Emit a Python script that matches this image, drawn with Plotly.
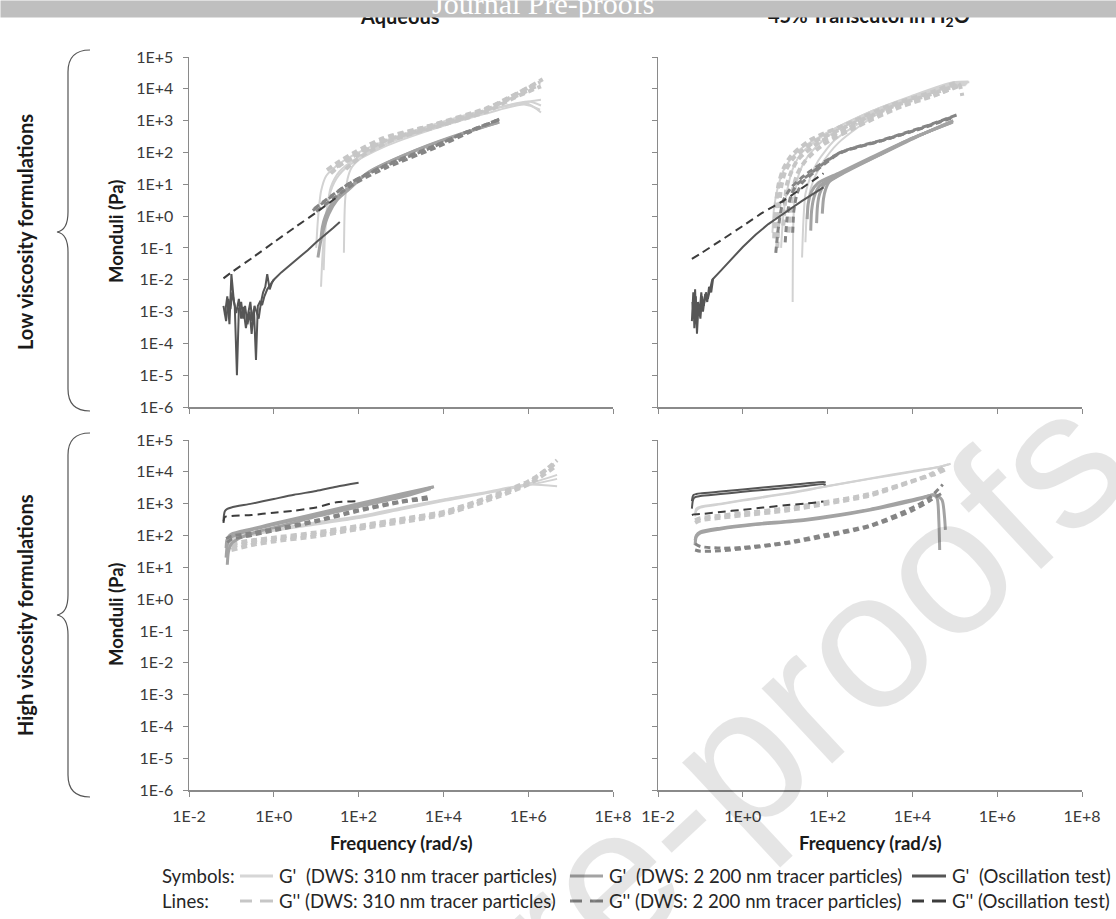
import plotly.graph_objects as go

W, H = 1116, 919

# ---------------- text / tick labels ----------------
X_TICK_VALS = [1e-2, 1e0, 1e2, 1e4, 1e6, 1e8]
X_TICK_TEXT = ["1E-2", "1E+0", "1E+2", "1E+4", "1E+6", "1E+8"]
Y_TICK_VALS = [1e-6, 1e-5, 1e-4, 1e-3, 1e-2, 1e-1, 1e0, 1e1, 1e2, 1e3, 1e4, 1e5]
Y_TICK_TEXT = ["1E-6", "1E-5", "1E-4", "1E-3", "1E-2", "1E-1", "1E+0", "1E+1", "1E+2", "1E+3", "1E+4", "1E+5"]
PANEL_TITLES = ["Aqueous", "45% Transcutol in H<sub>2</sub>O"]
ROW_LABELS = ["Low viscosity formulations", "High viscosity formulations"]
X_TITLE = "Frequency (rad/s)"
Y_TITLE = "Monduli (Pa)"
LEGEND_HEADS = ["Symbols:", "Lines:"]
LEGEND_GP = ["G'\u00a0\u00a0(DWS: 310 nm tracer particles)",
             "G'\u00a0\u00a0(DWS: 2 200 nm tracer particles)",
             "G'\u00a0\u00a0(Oscillation test)"]
LEGEND_GPP = ["G'' (DWS: 310 nm tracer particles)",
              "G'' (DWS: 2 200 nm tracer particles)",
              "G'' (Oscillation test)"]
BANNER = "Journal Pre-proofs"
WATERMARK = "Pre-proofs"

# ================= TOP-LEFT: Aqueous, low viscosity =================
AQL_OSC_GP1_F = [0.065, 0.075, 0.085, 0.095, 0.105, 0.12, 0.135, 0.15, 0.17, 0.19, 0.21, 0.24, 0.27, 0.3, 0.34,
                 0.38, 0.42, 0.47, 0.53, 0.6, 0.7, 0.85, 1.0, 1.5, 2.5, 4.0, 6.3, 10, 16, 25, 36]
AQL_OSC_GP1_G = [1.5e-3, 5e-4, 2.5e-3, 1.2e-3, 4e-3, 1.5e-3, 1e-5, 1.2e-3, 2e-3, 6e-4, 1.5e-3, 4e-4, 1e-3, 2e-4, 1.2e-3,
                 3e-5, 1.5e-3, 2e-3, 1.6e-3, 3e-3, 5e-3, 7e-3, 1e-2, 1.7e-2, 3e-2, 5e-2, 8.5e-2, 0.15, 0.25, 0.42, 0.65]
AQL_OSC_GP2_F = [0.07, 0.08, 0.09, 0.1, 0.115, 0.13, 0.15, 0.17, 0.19, 0.22, 0.25, 0.28, 0.31, 0.35, 0.39, 0.44,
                 0.5, 0.56, 0.63, 0.7, 0.8, 0.9, 1.0]
AQL_OSC_GP2_G = [8e-4, 3e-3, 4e-4, 1.5e-2, 2e-3, 9e-4, 2.5e-3, 6e-4, 1.4e-3, 3e-4, 9e-4, 2e-3, 5e-4, 1.5e-3, 1e-3, 6e-4,
                 2e-3, 4e-3, 6e-3, 1.5e-2, 5e-3, 8e-3, 1e-2]
AQL_OSC_GPP_F = [0.065, 0.1, 0.32, 1, 3.2, 10, 36]
AQL_OSC_GPP_G = [1.1e-2, 1.7e-2, 5e-2, 0.15, 0.45, 1.3, 4.6]

AQL_M_GP1_F = [11, 12.5, 15, 20, 31, 60, 160, 2400, 3e4, 2.1e5]
AQL_M_GP1_G = [0.05, 0.14, 0.4, 1.2, 3.2, 7, 22, 120, 400, 900]
AQL_M_GP2_F = [13, 14, 16.5, 22, 34, 65, 170, 2500, 3e4, 2e5]
AQL_M_GP2_G = [0.2, 0.45, 1.0, 2.2, 4.5, 8.5, 24, 125, 410, 880]

AQL_M_GPP1_F = [8.3, 20, 63, 380, 5600, 3.5e4, 2.1e5]
AQL_M_GPP1_G = [1.5, 3.6, 11, 35, 148, 440, 1100]
AQL_M_GPP2_F = [9, 22, 70, 400, 6000, 4e4, 2e5]
AQL_M_GPP2_G = [1.7, 4.2, 12, 38, 160, 470, 1050]
AQL_M_GPP3_F = [10, 25, 75, 450, 6500, 4e4, 2.2e5]
AQL_M_GPP3_G = [1.4, 3.5, 10, 33, 140, 420, 1150]

AQL_L_GP1_F = [13, 14, 16, 20, 30, 60, 400, 6e3, 9e4, 8e5, 1.9e6]
AQL_L_GP1_G = [0.006, 0.05, 0.5, 4, 15, 40, 150, 550, 1600, 3200, 2200]
AQL_L_GP2_F = [15, 16, 18, 22, 35, 80, 500, 8e3, 1e5, 1e6, 2e6]
AQL_L_GP2_G = [0.02, 0.2, 1.5, 8, 25, 60, 200, 700, 2000, 4000, 3000]
AQL_L_GP3_F = [45, 46, 48, 55, 70, 120, 600, 1e4, 1.2e5, 1.1e6, 2e6]
AQL_L_GP3_G = [0.07, 0.5, 3, 15, 35, 70, 220, 800, 2200, 4000, 4500]
AQL_L_GP4_F = [10, 11, 13, 17, 28, 60, 350, 5e3, 8e4, 9e5, 2e6]
AQL_L_GP4_G = [0.1, 0.8, 6, 18, 35, 70, 210, 700, 2000, 3500, 1800]

AQL_L_GPP1_F = [18, 30, 80, 380, 5.6e3, 8.5e4, 5.4e5, 1.9e6]
AQL_L_GPP1_G = [28, 45, 100, 280, 720, 2100, 7200, 1.6e4]
AQL_L_GPP2_F = [22, 35, 100, 450, 6e3, 9e4, 6e5, 2.2e6]
AQL_L_GPP2_G = [22, 38, 85, 240, 650, 2000, 7500, 2e4]
AQL_L_GPP3_F = [30, 50, 120, 600, 7e3, 1e5, 6e5, 1.7e6]
AQL_L_GPP3_G = [35, 55, 110, 300, 800, 2400, 6500, 1.3e4]
AQL_L_GPP4_F = [50, 70, 150, 700, 8e3, 1e5, 5e5, 2e6]
AQL_L_GPP4_G = [30, 45, 95, 260, 680, 1900, 5500, 1.2e4]

# ================= TOP-RIGHT: Transcutol, low viscosity =================
TRL_OSC_GP1_F = [0.063, 0.068, 0.072, 0.078, 0.083, 0.09, 0.1, 0.11, 0.12, 0.135, 0.15, 0.17, 0.19, 0.3, 0.5,
                 1, 2, 4, 10, 25, 80]
TRL_OSC_GP1_G = [5e-4, 4e-3, 3e-4, 3e-3, 2e-4, 1.5e-3, 6e-4, 3e-3, 1.5e-3, 4e-3, 2.5e-3, 5e-3, 1e-2, 1.9e-2, 4e-2,
                 0.107, 0.26, 0.56, 1.3, 3, 8]
TRL_OSC_GP2_F = [0.065, 0.07, 0.075, 0.08, 0.088, 0.095, 0.105, 0.115, 0.13, 0.145, 0.16, 0.18, 0.2]
TRL_OSC_GP2_G = [2e-3, 6e-4, 5e-3, 4e-4, 2e-3, 8e-4, 4e-3, 1e-3, 3.5e-3, 2e-3, 6e-3, 4e-3, 1.1e-2]
TRL_OSC_GPP_F = [0.063, 0.1, 0.3, 1, 3, 10, 30, 80]
TRL_OSC_GPP_G = [0.045, 0.066, 0.17, 0.49, 1.3, 3.3, 9, 22]

TRL_M_GP1_F = [40, 42, 48, 65, 200, 1.2e3, 1e4, 9e4]
TRL_M_GP1_G = [0.35, 1.5, 4, 9, 22, 70, 280, 900]
TRL_M_GP2_F = [55, 58, 65, 85, 230, 1.3e3, 1.1e4, 9e4]
TRL_M_GP2_G = [0.6, 2.2, 5, 10, 23, 72, 290, 950]
TRL_M_GP3_F = [75, 80, 90, 110, 260, 1.4e3, 1.2e4, 9.2e4]
TRL_M_GP3_G = [1.2, 3.5, 7, 12, 24, 74, 300, 1000]
TRL_M_GP4_F = [33, 35, 42, 60, 190, 1.1e3, 1e4, 8.5e4]
TRL_M_GP4_G = [0.8, 2.5, 6, 11, 23, 71, 280, 880]

TRL_M_GPP1_F = [6, 7, 9, 14, 30, 190, 1.8e3, 1.5e4, 1e5]
TRL_M_GPP1_G = [0.07, 0.5, 3, 8, 20, 95, 230, 560, 1400]
TRL_M_GPP2_F = [10, 11, 13, 18, 40, 200, 1.8e3, 1.5e4, 1.1e5]
TRL_M_GPP2_G = [0.15, 0.8, 3.5, 9, 22, 100, 240, 580, 1500]
TRL_M_GPP3_F = [15, 16, 19, 25, 50, 210, 1.9e3, 1.6e4, 1e5]
TRL_M_GPP3_G = [0.3, 1.5, 5, 11, 25, 100, 235, 560, 1300]

TRL_L_GP1_F = [8, 9, 11, 15, 25, 95, 1.2e3, 9e3, 9e4, 2.2e5]
TRL_L_GP1_G = [0.1, 1, 6, 30, 100, 400, 2100, 5500, 1.5e4, 1.6e4]
TRL_L_GP2_F = [15, 15.5, 17, 22, 35, 110, 1.3e3, 1e4, 1e5, 2e5]
TRL_L_GP2_G = [0.002, 0.5, 5, 25, 80, 350, 2000, 5500, 1.4e4, 1.5e4]
TRL_L_GP3_F = [25, 27, 30, 40, 60, 150, 1.5e3, 1e4, 1e5, 1.9e5]
TRL_L_GP3_G = [0.05, 0.8, 5, 18, 55, 250, 1800, 5000, 1.3e4, 1.4e4]
TRL_L_GP4_F = [5, 5.5, 7, 10, 20, 90, 1.1e3, 9e3, 9e4, 2.1e5]
TRL_L_GP4_G = [0.3, 2, 10, 35, 110, 400, 2000, 5800, 1.6e4, 1.7e4]
TRL_L_GP5_F = [30, 32, 36, 45, 70, 180, 1.6e3, 1.1e4, 1e5, 1.8e5]
TRL_L_GP5_G = [0.15, 1, 4, 12, 40, 200, 1700, 5000, 1.25e4, 1.3e4]

TRL_L_GPP1_F = [5.5, 6, 7, 9, 14, 40, 300, 3e3, 3e4, 1.2e5, 1.5e5]
TRL_L_GPP1_G = [0.2, 2, 10, 30, 80, 250, 800, 3000, 8000, 1.5e4, 6000]
TRL_L_GPP2_F = [6.5, 7, 8, 10, 16, 50, 350, 3.5e3, 3.5e4, 1.1e5]
TRL_L_GPP2_G = [0.1, 1, 8, 25, 70, 220, 750, 2800, 7500, 1.3e4]
TRL_L_GPP3_F = [9, 10, 11, 14, 20, 60, 400, 4e3, 4e4, 1.2e5]
TRL_L_GPP3_G = [0.5, 3, 10, 25, 60, 200, 700, 2600, 7000, 1.2e4]
TRL_L_GPP4_F = [12, 13, 15, 19, 30, 80, 500, 4.5e3, 4.5e4, 1.3e5]
TRL_L_GPP4_G = [0.3, 1.5, 6, 20, 55, 180, 650, 2500, 7200, 1.4e4]

# ================= BOTTOM-LEFT: Aqueous, high viscosity =================
AQH_OSC_GP_F = [0.065, 0.067, 0.07, 0.08, 0.1, 0.3, 1, 3, 10, 30, 100]
AQH_OSC_GP_G = [280, 450, 580, 680, 760, 1000, 1400, 1900, 2500, 3400, 4500]
AQH_OSC_GPP_F = [0.065, 0.07, 0.1, 0.3, 1, 3, 10, 30, 100]
AQH_OSC_GPP_G = [250, 380, 410, 440, 520, 600, 760, 1100, 1200]

AQH_M_GP1_F = [0.075, 0.08, 0.09, 0.12, 0.3, 1, 10, 100, 1000, 5600]
AQH_M_GP1_G = [20, 50, 80, 100, 150, 220, 450, 900, 1800, 3300]
AQH_M_GP2_F = [0.075, 0.078, 0.085, 0.1, 0.3, 1, 10, 100, 1000, 6000]
AQH_M_GP2_G = [40, 70, 90, 110, 160, 240, 480, 1000, 2000, 3400]
AQH_M_GP3_F = [0.08, 0.085, 0.1, 0.15, 0.4, 1.5, 12, 120, 1200, 5000]
AQH_M_GP3_G = [12, 30, 55, 80, 130, 200, 420, 850, 1700, 3000]

AQH_M_GPP1_F = [0.075, 0.1, 0.3, 1, 10, 100, 1000, 5000]
AQH_M_GPP1_G = [80, 95, 120, 160, 300, 650, 1200, 1700]
AQH_M_GPP2_F = [0.08, 0.1, 0.3, 1, 10, 100, 1000, 4500]
AQH_M_GPP2_G = [60, 75, 100, 140, 270, 580, 1100, 1400]

AQH_L_GP_F = [0.08, 0.1, 0.3, 1, 10, 100, 1e3, 1e4, 1e5, 1e6, 4.8e6]
AQH_L_GP1_G = [50, 80, 110, 150, 240, 380, 700, 1300, 2200, 3800, 6000]
AQH_L_GP2_G = [70, 90, 120, 160, 260, 400, 750, 1350, 2300, 4000, 3500]
AQH_L_GP3_G = [40, 70, 100, 140, 220, 350, 650, 1200, 2100, 4200, 8000]

AQH_L_GPP_F = [0.1, 0.3, 1, 10, 100, 1e3, 1e4, 1e5, 1e6, 4.8e6]
AQH_L_GPP1_G = [45, 60, 75, 110, 180, 300, 500, 1400, 4500, 2.3e4]
AQH_L_GPP2_G = [35, 50, 65, 95, 160, 260, 450, 1200, 4000, 1.6e4]
AQH_L_GPP3_G = [55, 70, 85, 125, 200, 330, 550, 1500, 5000, 2e4]

# ================= BOTTOM-RIGHT: Transcutol, high viscosity =================
TRH_OSC_GP_F = [0.063, 0.066, 0.07, 0.08, 0.1, 0.3, 1, 3, 10, 30, 80, 90]
TRH_OSC_GP1_G = [1200, 1700, 1900, 2000, 2100, 2400, 2800, 3200, 3700, 4300, 4800, 4600]
TRH_OSC_GP2_G = [700, 1200, 1500, 1650, 1750, 2000, 2350, 2700, 3100, 3600, 4100, 3900]
TRH_OSC_GPP_F = [0.063, 0.07, 0.1, 0.3, 1, 3, 10, 30, 80]
TRH_OSC_GPP_G = [440, 460, 470, 550, 640, 750, 890, 1000, 1170]

TRH_L_GP1_F = [0.075, 0.08, 0.1, 0.3, 1, 10, 100, 1e3, 1e4, 4.5e4, 7e4]
TRH_L_GP1_G = [400, 600, 750, 950, 1250, 2000, 3500, 6000, 1e4, 1.45e4, 1.7e4]
TRH_L_GP2_F = [0.075, 0.08, 0.1, 0.3, 1, 10, 100, 1e3, 1e4, 5e4, 8e4]
TRH_L_GP2_G = [500, 700, 800, 1000, 1300, 2100, 3600, 6200, 1.05e4, 1.5e4, 1.8e4]

TRH_L_GPP_F = [0.075, 0.1, 0.3, 1, 10, 100, 1e3, 1e4, 3e4, 6e4]
TRH_L_GPP1_G = [250, 300, 360, 430, 600, 1000, 1800, 5000, 9000, 1.5e4]
TRH_L_GPP2_G = [300, 350, 420, 500, 700, 1150, 2000, 5200, 8000, 1.2e4]

TRH_M_GP1_F = [0.075, 0.08, 0.1, 0.3, 2, 30, 1e3, 1.8e4, 3e4, 3.8e4, 4.2e4, 4.4e4]
TRH_M_GP1_G = [50, 90, 120, 160, 220, 300, 630, 1500, 1900, 1500, 300, 35]
TRH_M_GP2_F = [0.075, 0.08, 0.1, 0.3, 2, 30, 1e3, 1.8e4, 3.5e4, 5e4, 5.7e4, 6e4]
TRH_M_GP2_G = [70, 100, 130, 170, 230, 320, 660, 1600, 1900, 1300, 400, 150]

TRH_M_GPP_F = [0.075, 0.1, 0.3, 1, 10, 100, 1e3, 1e4, 2.5e4, 5.2e4]
TRH_M_GPP1_G = [55, 45, 40, 42, 60, 110, 210, 750, 1500, 4000]
TRH_M_GPP2_G = [35, 32, 33, 38, 55, 95, 190, 600, 1200, 2200]

# ---------------- styles ----------------
STYLE = {
    "L_GP":  dict(color="#d2d2d2", width=2, dash="solid"),
    "L_GPP": dict(color="#c6c6c6", width=4, dash="6px,4px"),
    "M_GP":  dict(color="#a3a3a3", width=3, dash="solid"),
    "M_GPP": dict(color="#858585", width=3, dash="6px,4px"),
    "O_GP":  dict(color="#565656", width=2, dash="solid"),
    "O_GPP": dict(color="#3c3c3c", width=2, dash="8px,5px"),
}
AX = {"TL": ("x", "y"), "TR": ("x2", "y2"), "BL": ("x3", "y3"), "BR": ("x4", "y4")}

fig = go.Figure()


def add(panel, f, g, kind, shape="spline"):
    st = STYLE[kind]
    line = dict(color=st["color"], width=st["width"], dash=st["dash"], shape=shape)
    if shape == "spline":
        line["smoothing"] = 0.7
    xa, ya = AX[panel]
    fig.add_trace(go.Scatter(x=f, y=g, mode="lines", line=line, xaxis=xa, yaxis=ya,
                             showlegend=False, hoverinfo="skip"))


# --- top-left
for f, g in [(AQL_L_GP1_F, AQL_L_GP1_G), (AQL_L_GP2_F, AQL_L_GP2_G), (AQL_L_GP3_F, AQL_L_GP3_G), (AQL_L_GP4_F, AQL_L_GP4_G)]:
    add("TL", f, g, "L_GP")
for f, g in [(AQL_L_GPP1_F, AQL_L_GPP1_G), (AQL_L_GPP2_F, AQL_L_GPP2_G), (AQL_L_GPP3_F, AQL_L_GPP3_G), (AQL_L_GPP4_F, AQL_L_GPP4_G)]:
    add("TL", f, g, "L_GPP")
for f, g in [(AQL_M_GP1_F, AQL_M_GP1_G), (AQL_M_GP2_F, AQL_M_GP2_G)]:
    add("TL", f, g, "M_GP")
for f, g in [(AQL_M_GPP1_F, AQL_M_GPP1_G), (AQL_M_GPP2_F, AQL_M_GPP2_G), (AQL_M_GPP3_F, AQL_M_GPP3_G)]:
    add("TL", f, g, "M_GPP")
add("TL", AQL_OSC_GP2_F, AQL_OSC_GP2_G, "O_GP", "linear")
add("TL", AQL_OSC_GP1_F, AQL_OSC_GP1_G, "O_GP", "linear")
add("TL", AQL_OSC_GPP_F, AQL_OSC_GPP_G, "O_GPP")

# --- top-right
for f, g in [(TRL_L_GP1_F, TRL_L_GP1_G), (TRL_L_GP2_F, TRL_L_GP2_G), (TRL_L_GP3_F, TRL_L_GP3_G),
             (TRL_L_GP4_F, TRL_L_GP4_G), (TRL_L_GP5_F, TRL_L_GP5_G)]:
    add("TR", f, g, "L_GP")
for f, g in [(TRL_L_GPP1_F, TRL_L_GPP1_G), (TRL_L_GPP2_F, TRL_L_GPP2_G), (TRL_L_GPP3_F, TRL_L_GPP3_G), (TRL_L_GPP4_F, TRL_L_GPP4_G)]:
    add("TR", f, g, "L_GPP")
for f, g in [(TRL_M_GP1_F, TRL_M_GP1_G), (TRL_M_GP2_F, TRL_M_GP2_G), (TRL_M_GP3_F, TRL_M_GP3_G), (TRL_M_GP4_F, TRL_M_GP4_G)]:
    add("TR", f, g, "M_GP")
for f, g in [(TRL_M_GPP1_F, TRL_M_GPP1_G), (TRL_M_GPP2_F, TRL_M_GPP2_G), (TRL_M_GPP3_F, TRL_M_GPP3_G)]:
    add("TR", f, g, "M_GPP")
add("TR", TRL_OSC_GP2_F, TRL_OSC_GP2_G, "O_GP", "linear")
add("TR", TRL_OSC_GP1_F, TRL_OSC_GP1_G, "O_GP", "linear")
add("TR", TRL_OSC_GPP_F, TRL_OSC_GPP_G, "O_GPP")

# --- bottom-left
for g in [AQH_L_GP1_G, AQH_L_GP2_G, AQH_L_GP3_G]:
    add("BL", AQH_L_GP_F, g, "L_GP")
for g in [AQH_L_GPP1_G, AQH_L_GPP2_G, AQH_L_GPP3_G]:
    add("BL", AQH_L_GPP_F, g, "L_GPP")
for f, g in [(AQH_M_GP1_F, AQH_M_GP1_G), (AQH_M_GP2_F, AQH_M_GP2_G), (AQH_M_GP3_F, AQH_M_GP3_G)]:
    add("BL", f, g, "M_GP")
for f, g in [(AQH_M_GPP1_F, AQH_M_GPP1_G), (AQH_M_GPP2_F, AQH_M_GPP2_G)]:
    add("BL", f, g, "M_GPP")
add("BL", AQH_OSC_GP_F, AQH_OSC_GP_G, "O_GP")
add("BL", AQH_OSC_GPP_F, AQH_OSC_GPP_G, "O_GPP")

# --- bottom-right
for f, g in [(TRH_L_GP1_F, TRH_L_GP1_G), (TRH_L_GP2_F, TRH_L_GP2_G)]:
    add("BR", f, g, "L_GP")
for g in [TRH_L_GPP1_G, TRH_L_GPP2_G]:
    add("BR", TRH_L_GPP_F, g, "L_GPP")
for f, g in [(TRH_M_GP1_F, TRH_M_GP1_G), (TRH_M_GP2_F, TRH_M_GP2_G)]:
    add("BR", f, g, "M_GP")
for g in [TRH_M_GPP1_G, TRH_M_GPP2_G]:
    add("BR", TRH_M_GPP_F, g, "M_GPP")
for g in [TRH_OSC_GP1_G, TRH_OSC_GP2_G]:
    add("BR", TRH_OSC_GP_F, g, "O_GP")
add("BR", TRH_OSC_GPP_F, TRH_OSC_GPP_G, "O_GPP")

# ---------------- axes ----------------
LEFT_X, RIGHT_X = (189, 613), (658, 1082)
TOP_Y, BOT_Y = (57, 407), (440, 790)
AXCOL = "#8a8a8a"
TICKFONT = dict(family="Lato", size=16, color="#3a3a3a")


def xdom(p):
    return [p[0] / W, p[1] / W]


def ydom(p):
    return [1 - p[1] / H, 1 - p[0] / H]


def xax(dom, anchor, labels):
    return dict(type="log", range=[-2, 8], domain=xdom(dom), anchor=anchor, showgrid=False, zeroline=False,
                showline=True, linecolor=AXCOL, linewidth=1.5, ticks="outside", ticklen=5, tickwidth=1,
                tickcolor=AXCOL, tickvals=X_TICK_VALS, ticktext=X_TICK_TEXT, showticklabels=labels,
                tickfont=TICKFONT, ticklabelstandoff=6, fixedrange=True, automargin=False)


def yax(dom, anchor, labels):
    return dict(type="log", range=[-6, 5], domain=ydom(dom), anchor=anchor, showgrid=False, zeroline=False,
                showline=True, linecolor=AXCOL, linewidth=1.5, ticks="outside", ticklen=5, tickwidth=1,
                tickcolor=AXCOL, tickvals=Y_TICK_VALS, ticktext=Y_TICK_TEXT, showticklabels=labels,
                tickfont=TICKFONT, ticklabelstandoff=6, fixedrange=True, automargin=False)


fig.update_layout(
    template="none",
    xaxis=xax(LEFT_X, "y", False), yaxis=yax(TOP_Y, "x", True),
    xaxis2=xax(RIGHT_X, "y2", False), yaxis2=yax(TOP_Y, "x2", False),
    xaxis3=xax(LEFT_X, "y3", True), yaxis3=yax(BOT_Y, "x3", True),
    xaxis4=xax(RIGHT_X, "y4", True), yaxis4=yax(BOT_Y, "x4", False),
)


# ---------------- annotations ----------------
def ann(text, x, y, size, bold=False, angle=0, xanchor="center", yanchor="middle",
        color="#1a1a1a", family="Lato", **kw):
    d = dict(text=f"<b>{text}</b>" if bold else text, x=x / W, y=1 - y / H, xref="paper", yref="paper",
             showarrow=False, xanchor=xanchor, yanchor=yanchor, textangle=angle,
             font=dict(family=family, size=size, color=color))
    d.update(kw)
    return d


anns = []
# watermark
anns.append(ann(WATERMARK, 760, 738, 195, angle=-43, color="rgba(0,0,0,0.10)", family="Liberation Sans"))
# panel titles (partly hidden under banner)
anns.append(ann(PANEL_TITLES[0], 400, 16, 20, bold=True))
anns.append(ann(PANEL_TITLES[1], 869, 16, 20, bold=True))
# banner
anns.append(dict(text=" ", x=0, y=1, xref="paper", yref="paper", xanchor="left", yanchor="top",
                 showarrow=False, width=W, height=16, bgcolor="#bfbfbf", borderpad=0,
                 font=dict(size=4)))
anns.append(ann(BANNER, 543, 3, 30, color="white", family="Liberation Serif"))
# axis titles
for cx in [(LEFT_X[0] + LEFT_X[1]) / 2, (RIGHT_X[0] + RIGHT_X[1]) / 2]:
    anns.append(ann(X_TITLE, cx, 843, 18.5, bold=True))
for cy in [(TOP_Y[0] + TOP_Y[1]) / 2, (BOT_Y[0] + BOT_Y[1]) / 2]:
    anns.append(ann(Y_TITLE, 116, cy, 18.5, bold=True, angle=-90))
# row labels
anns.append(ann(ROW_LABELS[0], 25, 232, 20, bold=True, angle=-90))
anns.append(ann(ROW_LABELS[1], 25, 615, 20, bold=True, angle=-90))

# legend
LEG_Y = [876, 901]
SAMPLE_X = [(240, 273), (570, 603), (912, 946)]
TEXT_X = [277, 607, 950]
LEG_COLORS_GP = ["#d6d6d6", "#a3a3a3", "#565656"]
LEG_COLORS_GPP = ["#c6c6c6", "#858585", "#3c3c3c"]
LEG_FS = 18.6
anns.append(ann(LEGEND_HEADS[0], 160, LEG_Y[0], LEG_FS, xanchor="left", color="#262626"))
anns.append(ann(LEGEND_HEADS[1], 160, LEG_Y[1], LEG_FS, xanchor="left", color="#262626"))
for i in range(3):
    anns.append(ann(LEGEND_GP[i], TEXT_X[i], LEG_Y[0], LEG_FS, xanchor="left", color="#262626"))
    anns.append(ann(LEGEND_GPP[i], TEXT_X[i], LEG_Y[1], LEG_FS, xanchor="left", color="#262626"))

fig.update_layout(annotations=anns)

# ---------------- shapes (legend samples, braces) ----------------
shapes = []


def seg(x0, x1, y, color, width=3):
    return dict(type="line", xref="paper", yref="paper", x0=x0 / W, x1=x1 / W, y0=1 - y / H, y1=1 - y / H,
                line=dict(color=color, width=width))


for i in range(3):
    a, b = SAMPLE_X[i]
    shapes.append(seg(a, b, LEG_Y[0], LEG_COLORS_GP[i]))
    shapes.append(seg(a, a + 12, LEG_Y[1], LEG_COLORS_GPP[i]))
    shapes.append(seg(a + 20, b, LEG_Y[1], LEG_COLORS_GPP[i]))


def P(x, y):
    return f"{x / W:.5f},{1 - y / H:.5f}"


def brace(yt, ym, yb):
    xe, xb, xt = 90, 68, 57
    path = (f"M {P(xe, yt)} C {P(77, yt)} {P(xb, yt + 6)} {P(xb, yt + 22)} "
            f"L {P(xb, ym - 20)} C {P(xb, ym - 7)} {P(63, ym - 1)} {P(xt, ym)} "
            f"C {P(63, ym + 1)} {P(xb, ym + 7)} {P(xb, ym + 20)} "
            f"L {P(xb, yb - 22)} C {P(xb, yb - 6)} {P(77, yb)} {P(xe, yb)}")
    return dict(type="path", xref="paper", yref="paper", path=path, line=dict(color="#555555", width=1.2))


shapes.append(brace(50, 232, 411))
shapes.append(brace(433, 615, 797))
fig.update_layout(shapes=shapes)

fig.update_layout(width=W, height=H, margin=dict(l=0, r=0, t=0, b=0, pad=0), paper_bgcolor="white",
                  plot_bgcolor="white", showlegend=False)

fig.write_html("out.html", config={"displayModeBar": False, "staticPlot": True},
               post_script="document.body.style.margin='0';document.body.style.overflow='hidden';")
